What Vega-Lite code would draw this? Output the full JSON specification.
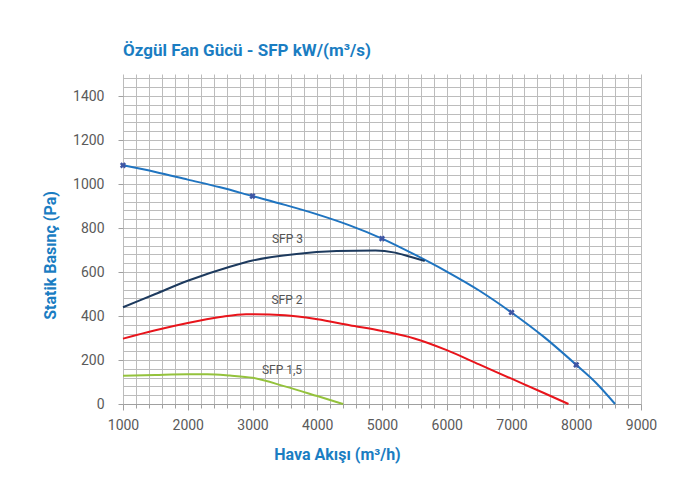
{
  "$schema": "https://vega.github.io/schema/vega-lite/v6.json",
  "width": 518,
  "height": 330,
  "autosize": {"type": "none"},
  "padding": {"left": 123, "top": 74, "right": 40, "bottom": 91},
  "background": "white",
  "config": {"view": {"stroke": null}, "font": "Roboto"},
  "title": {
    "text": "Özgül Fan Gücü - SFP kW/(m³/s)",
    "anchor": "start",
    "frame": "group",
    "font": "Roboto",
    "fontSize": 17,
    "fontWeight": "bold",
    "color": "#1a7dc2",
    "baseline": "alphabetic",
    "offset": -2
  },
  "datasets": {
    "curves": [
      {"x": 1000, "y": 1085, "s": "fan"},
      {"x": 1500, "y": 1055, "s": "fan"},
      {"x": 2000, "y": 1020, "s": "fan"},
      {"x": 2500, "y": 985, "s": "fan"},
      {"x": 3000, "y": 945, "s": "fan"},
      {"x": 3500, "y": 905, "s": "fan"},
      {"x": 4000, "y": 862, "s": "fan"},
      {"x": 4500, "y": 812, "s": "fan"},
      {"x": 5000, "y": 752, "s": "fan"},
      {"x": 5500, "y": 680, "s": "fan"},
      {"x": 6000, "y": 602, "s": "fan"},
      {"x": 6500, "y": 516, "s": "fan"},
      {"x": 7000, "y": 416, "s": "fan"},
      {"x": 7500, "y": 305, "s": "fan"},
      {"x": 8000, "y": 178, "s": "fan"},
      {"x": 8300, "y": 98, "s": "fan"},
      {"x": 8600, "y": 0, "s": "fan"},
      {"x": 1000, "y": 440, "s": "sfp3"},
      {"x": 1500, "y": 500, "s": "sfp3"},
      {"x": 2000, "y": 560, "s": "sfp3"},
      {"x": 2650, "y": 624, "s": "sfp3"},
      {"x": 3000, "y": 652, "s": "sfp3"},
      {"x": 3680, "y": 682, "s": "sfp3"},
      {"x": 4300, "y": 695, "s": "sfp3"},
      {"x": 4900, "y": 698, "s": "sfp3"},
      {"x": 5200, "y": 688, "s": "sfp3"},
      {"x": 5450, "y": 668, "s": "sfp3"},
      {"x": 5660, "y": 650, "s": "sfp3"},
      {"x": 1000, "y": 297, "s": "sfp2"},
      {"x": 1500, "y": 335, "s": "sfp2"},
      {"x": 2000, "y": 368, "s": "sfp2"},
      {"x": 2500, "y": 395, "s": "sfp2"},
      {"x": 2900, "y": 408, "s": "sfp2"},
      {"x": 3500, "y": 403, "s": "sfp2"},
      {"x": 4000, "y": 385, "s": "sfp2"},
      {"x": 4500, "y": 358, "s": "sfp2"},
      {"x": 5000, "y": 332, "s": "sfp2"},
      {"x": 5500, "y": 298, "s": "sfp2"},
      {"x": 6000, "y": 245, "s": "sfp2"},
      {"x": 6500, "y": 180, "s": "sfp2"},
      {"x": 7000, "y": 115, "s": "sfp2"},
      {"x": 7500, "y": 50, "s": "sfp2"},
      {"x": 7880, "y": 0, "s": "sfp2"},
      {"x": 1000, "y": 128, "s": "sfp15"},
      {"x": 1500, "y": 132, "s": "sfp15"},
      {"x": 2000, "y": 135, "s": "sfp15"},
      {"x": 2300, "y": 135, "s": "sfp15"},
      {"x": 2650, "y": 129, "s": "sfp15"},
      {"x": 3000, "y": 119, "s": "sfp15"},
      {"x": 3500, "y": 80, "s": "sfp15"},
      {"x": 4000, "y": 36, "s": "sfp15"},
      {"x": 4400, "y": 0, "s": "sfp15"}
    ],
    "markers": [
      {"x": 1000, "y": 1085},
      {"x": 3000, "y": 945},
      {"x": 5000, "y": 752},
      {"x": 7000, "y": 416},
      {"x": 8000, "y": 178}
    ],
    "labels": [
      {"x": 3540, "y": 748, "t": "SFP 3"},
      {"x": 3533, "y": 471, "t": "SFP 2"},
      {"x": 3456, "y": 156, "t": "SFP 1,5"}
    ]
  },
  "layer": [
    {
      "data": {"name": "curves"},
      "mark": {"type": "line", "interpolate": "monotone", "strokeWidth": 2},
      "encoding": {
        "x": {
          "field": "x",
          "type": "quantitative",
          "scale": {"domain": [1000, 9000], "nice": false},
          "axis": {
            "values": [1000,1200,1400,1600,1800,2000,2200,2400,2600,2800,3000,3200,3400,3600,3800,4000,4200,4400,4600,4800,5000,5200,5400,5600,5800,6000,6200,6400,6600,6800,7000,7200,7400,7600,7800,8000,8200,8400,8600,8800,9000],
            "tickCount": 200,
            "format": "d",
            "labelExpr": "datum.value % 1000 === 0 ? datum.label : ''",
            "labelOverlap": false,
            "labelFlush": false,
            "grid": true,
            "gridColor": "#bcbcbc",
            "gridWidth": 1,
            "domainColor": "#a0a0a0",
            "tickColor": "#a0a0a0",
            "tickSize": {"condition": {"test": "datum.value % 1000 === 0", "value": 6}, "value": 4},
            "labelFont": "Roboto",
            "labelFontSize": 14,
            "labelColor": "#5a5a5a",
            "labelPadding": 8,
            "title": "Hava Akışı (m³/h)",
            "titleFont": "Roboto",
            "titleFontSize": 16,
            "titleFontWeight": "bold",
            "titleColor": "#1a7dc2",
            "titleX": 214,
            "titleY": 55,
            "titleBaseline": "alphabetic"
          }
        },
        "y": {
          "field": "y",
          "type": "quantitative",
          "scale": {"domain": [0, 1500], "nice": false},
          "axis": {
            "values": [0,40,80,120,160,200,240,280,320,360,400,440,480,520,560,600,640,680,720,760,800,840,880,920,960,1000,1040,1080,1120,1160,1200,1240,1280,1320,1360,1400,1440,1480],
            "tickCount": 200,
            "format": "d",
            "labelExpr": "datum.value % 200 === 0 && datum.value <= 1400 ? datum.label : ''",
            "labelOverlap": false,
            "labelFlush": false,
            "grid": true,
            "gridColor": "#bcbcbc",
            "gridWidth": 1,
            "domain": false,
            "tickColor": "#a0a0a0",
            "tickSize": 5,
            "tickOpacity": {"condition": {"test": "datum.value % 200 === 0 && datum.value <= 1400", "value": 1}, "value": 0},
            "labelFont": "Roboto",
            "labelFontSize": 14,
            "labelColor": "#5a5a5a",
            "labelPadding": 14,
            "title": "Statik Basınç (Pa)",
            "titleFont": "Roboto",
            "titleFontSize": 16,
            "titleFontWeight": "bold",
            "titleColor": "#1a7dc2",
            "titleX": -68,
            "titleY": 181,
            "titleAngle": -90,
            "titleBaseline": "alphabetic",
            "titleAlign": "center"
          }
        },
        "color": {
          "field": "s",
          "type": "nominal",
          "scale": {"domain": ["fan", "sfp3", "sfp2", "sfp15"], "range": ["#1f74c0", "#1d3a5e", "#e8141b", "#94c23c"]},
          "legend": null
        }
      }
    },
    {
      "data": {"name": "markers"},
      "mark": {"type": "point", "shape": "cross", "angle": 45, "filled": true, "size": 40, "color": "#3f56a4", "opacity": 1},
      "encoding": {
        "x": {"field": "x", "type": "quantitative"},
        "y": {"field": "y", "type": "quantitative"}
      }
    },
    {
      "data": {"name": "labels"},
      "mark": {"type": "text", "font": "Roboto", "fontSize": 12, "color": "#555555", "align": "center", "baseline": "middle"},
      "encoding": {
        "x": {"field": "x", "type": "quantitative"},
        "y": {"field": "y", "type": "quantitative"},
        "text": {"field": "t", "type": "nominal"}
      }
    }
  ]
}
